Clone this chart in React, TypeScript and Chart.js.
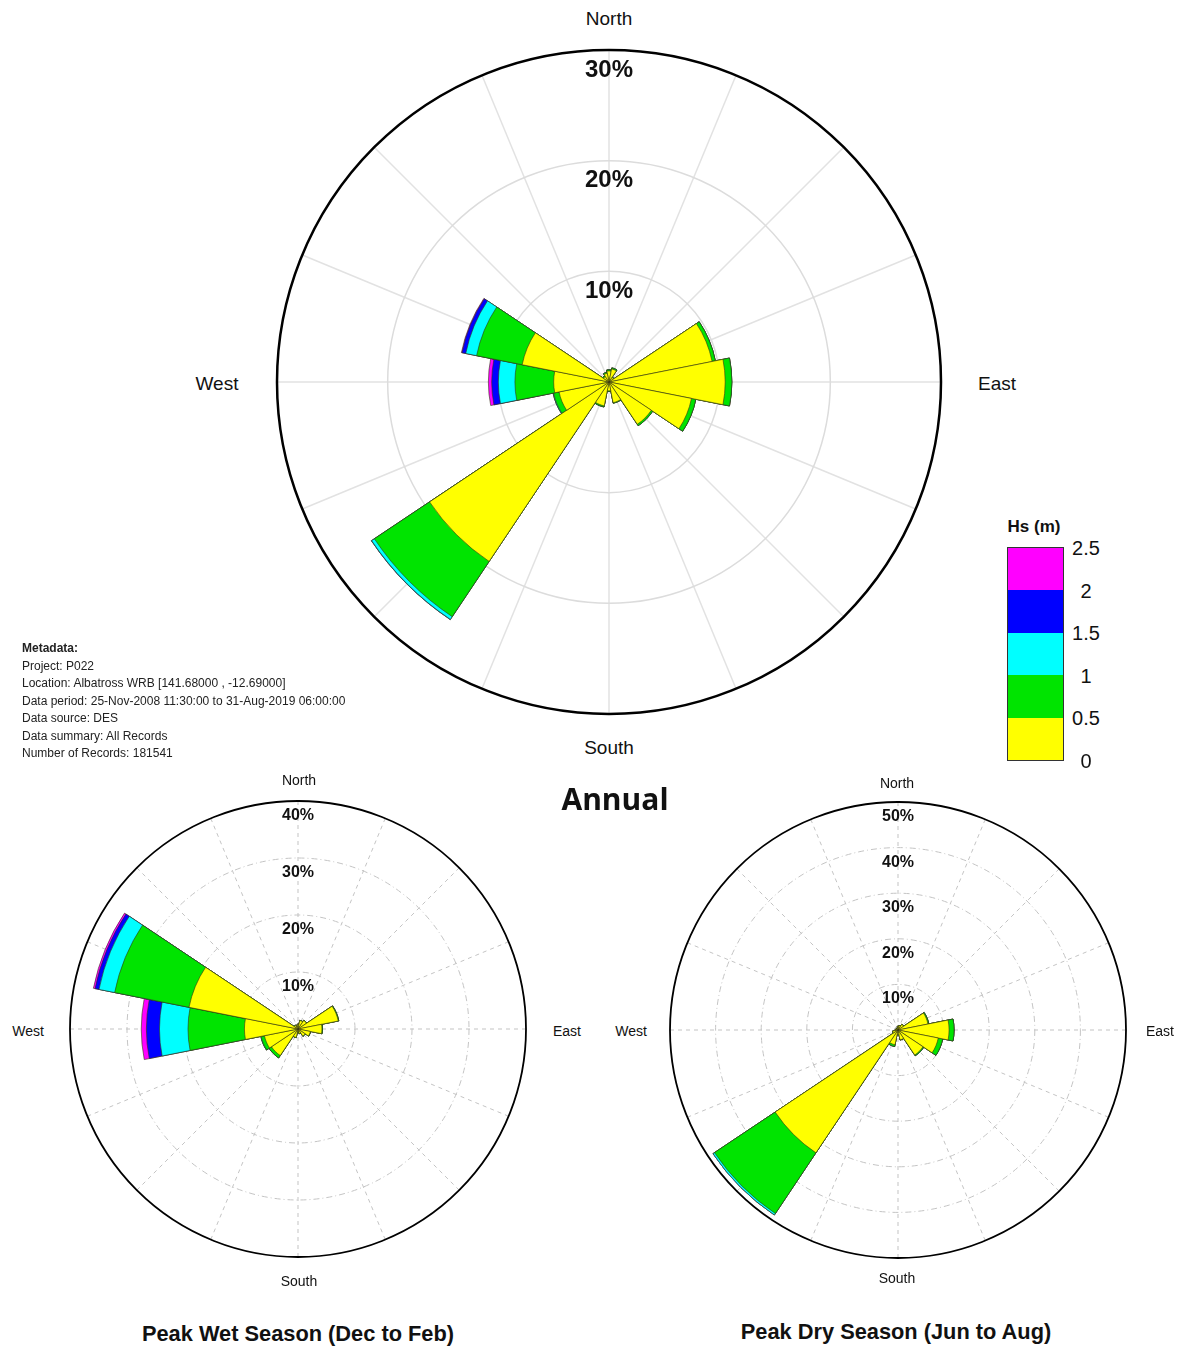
import React, { useEffect, useRef } from 'react';
import { Chart, registerables } from 'chart.js';

Chart.register(...registerables);

// ---------- data ----------
const directions = ['N', 'NNE', 'NE', 'ENE', 'E', 'ESE', 'SE', 'SSE', 'S', 'SSW', 'SW', 'WSW', 'W', 'WNW', 'NW', 'NNW'];
const hsBins = ['0-0.5', '0.5-1', '1-1.5', '1.5-2', '2-2.5'];
const hsColors = ['#ffff00', '#00e400', '#00ffff', '#0000ff', '#ff00ff'];
const colorbarTicks = ['2.5', '2', '1.5', '1', '0.5', '0'];

// Annual (% occurrence per Hs bin)
const annualHs0 = [1.0, 1.2, 0.5, 9.5, 10.5, 7.6, 4.6, 1.9, 0.8, 2.2, 19.5, 4.6, 5.0, 8.0, 0.6, 0.8];
const annualHs1 = [0.1, 0.1, 0.05, 0.3, 0.6, 0.4, 0.15, 0.05, 0.05, 0.1, 6.0, 0.5, 3.5, 4.2, 0.1, 0.1];
const annualHs2 = [0, 0, 0, 0, 0, 0, 0, 0, 0, 0, 0.3, 0.05, 1.5, 1.0, 0, 0];
const annualHs3 = [0, 0, 0, 0, 0, 0, 0, 0, 0, 0, 0.02, 0, 0.6, 0.35, 0, 0];
const annualHs4 = [0, 0, 0, 0, 0, 0, 0, 0, 0, 0, 0, 0, 0.3, 0.05, 0, 0];

// Peak wet season (Dec to Feb)
const wetHs0 = [0.8, 1.5, 1.8, 7.2, 4.2, 2.2, 1.5, 0.8, 0.5, 1.5, 5.6, 6.0, 9.4, 19.5, 0.8, 0.5];
const wetHs1 = [0.05, 0.05, 0.05, 0.1, 0.1, 0.05, 0.05, 0.05, 0.05, 0.05, 0.5, 0.6, 9.9, 13.3, 0.05, 0.05];
const wetHs2 = [0, 0, 0, 0, 0, 0, 0, 0, 0, 0, 0, 0.05, 5.0, 2.8, 0, 0];
const wetHs3 = [0, 0, 0, 0, 0, 0, 0, 0, 0, 0, 0, 0, 2.3, 0.7, 0, 0];
const wetHs4 = [0, 0, 0, 0, 0, 0, 0, 0, 0, 0, 0, 0, 0.9, 0.3, 0, 0];

// Peak dry season (Jun to Aug)
const dryHs0 = [0.8, 1.0, 1.5, 6.7, 11.2, 9.0, 6.6, 2.2, 1.0, 3.3, 32.4, 1.2, 0.6, 0.5, 0.4, 0.5];
const dryHs1 = [0.03, 0.03, 0.03, 0.2, 1.1, 1.0, 0.2, 0.05, 0.03, 0.4, 16.0, 0.05, 0.03, 0.03, 0.03, 0.03];
const dryHs2 = [0, 0, 0, 0, 0, 0, 0, 0, 0, 0, 0.4, 0, 0, 0, 0, 0];
const dryHs3 = [0, 0, 0, 0, 0, 0, 0, 0, 0, 0, 0, 0, 0, 0, 0, 0];
const dryHs4 = [0, 0, 0, 0, 0, 0, 0, 0, 0, 0, 0, 0, 0, 0, 0, 0];

const annualRings = [10, 20, 30];
const wetRings = [10, 20, 30, 40];
const dryRings = [10, 20, 30, 40, 50];

const metadataLines = [
  'Project: P022',
  'Location: Albatross WRB [141.68000 , -12.69000]',
  'Data period: 25-Nov-2008 11:30:00 to 31-Aug-2019 06:00:00',
  'Data source: DES',
  'Data summary: All Records',
  'Number of Records: 181541',
];

const FONT = '"Liberation Sans", Arial, Helvetica, sans-serif';

function buildDatasets(bins: number[][]) {
  return bins.map((_, b) => ({
    label: hsBins[b],
    data: directions.map((__, i) => {
      let s = 0;
      for (let k = 0; k <= b; k++) s += bins[k][i];
      return s;
    }),
    backgroundColor: hsColors[b],
    borderColor: 'rgba(50,50,20,0.85)',
    borderWidth: 0.7,
  }));
}

const roseGrid = {
  id: 'roseGrid',
  beforeDatasetsDraw(chart: any, _args: any, opts: any) {
    const s = chart.scales.r;
    const ctx = chart.ctx;
    const cx = s.xCenter;
    const cy = s.yCenter;
    const R = s.getDistanceFromCenterForValue(opts.max);
    ctx.save();
    ctx.strokeStyle = opts.spokeColor;
    ctx.lineWidth = opts.spokeWidth;
    ctx.setLineDash(opts.spokeDash);
    for (let i = 0; i < 16; i++) {
      const a = ((i * 22.5 - 90) * Math.PI) / 180;
      ctx.beginPath();
      ctx.moveTo(cx, cy);
      ctx.lineTo(cx + R * Math.cos(a), cy + R * Math.sin(a));
      ctx.stroke();
    }
    ctx.strokeStyle = opts.ringColor;
    ctx.lineWidth = opts.ringWidth;
    ctx.setLineDash(opts.ringDash);
    for (const v of opts.rings) {
      if (v >= opts.max) continue;
      const r = s.getDistanceFromCenterForValue(v);
      ctx.beginPath();
      ctx.arc(cx, cy, r, 0, Math.PI * 2);
      ctx.stroke();
    }
    ctx.restore();
  },
  afterDatasetsDraw(chart: any, _args: any, opts: any) {
    const s = chart.scales.r;
    const ctx = chart.ctx;
    const cx = s.xCenter;
    const cy = s.yCenter;
    const R = s.getDistanceFromCenterForValue(opts.max);
    ctx.save();
    ctx.setLineDash([]);
    ctx.strokeStyle = '#000';
    ctx.lineWidth = opts.outerWidth;
    ctx.beginPath();
    ctx.arc(cx, cy, R, 0, Math.PI * 2);
    ctx.stroke();
    ctx.fillStyle = '#111';
    ctx.font = `bold ${opts.labelSize}px ${FONT}`;
    ctx.textAlign = 'center';
    ctx.textBaseline = 'middle';
    for (const v of opts.rings) {
      const r = s.getDistanceFromCenterForValue(v);
      ctx.fillText(`${v}%`, cx, cy - r + opts.labelOffset);
    }
    ctx.restore();
  },
};

type RoseProps = {
  left: number;
  top: number;
  size: number;
  pad: number;
  rings: number[];
  bins: number[][];
  gridOpts: any;
};

function Rose({ left, top, size, pad, rings, bins, gridOpts }: RoseProps) {
  const ref = useRef<HTMLCanvasElement>(null);
  useEffect(() => {
    if (!ref.current) return;
    const max = rings[rings.length - 1];
    const chart = new Chart(ref.current, {
      type: 'polarArea',
      data: { labels: directions, datasets: buildDatasets(bins) as any },
      options: {
        responsive: false,
        animation: false,
        layout: { padding: pad },
        scales: {
          r: {
            min: 0,
            max,
            startAngle: -11.25,
            grid: { display: false },
            angleLines: { display: false },
            pointLabels: { display: false },
            ticks: { display: false },
          },
        },
        plugins: {
          legend: { display: false },
          tooltip: { enabled: false },
          roseGrid: { max, rings, ...gridOpts },
        } as any,
      },
      plugins: [roseGrid],
    });
    return () => chart.destroy();
  }, []);
  return (
    <canvas
      ref={ref}
      width={size}
      height={size}
      style={{ position: 'absolute', left, top, width: size, height: size }}
    />
  );
}

function Label({ x, y, text, size, bold, family }: { x: number; y: number; text: string; size: number; bold?: boolean; family?: string }) {
  return (
    <div
      style={{
        position: 'absolute',
        left: x,
        top: y,
        transform: 'translate(-50%, -50%)',
        whiteSpace: 'nowrap',
        fontFamily: family || FONT,
        fontSize: size,
        fontWeight: bold ? 'bold' : 'normal',
        color: '#111',
        lineHeight: 1,
      }}
    >
      {text}
    </div>
  );
}

export default function App() {
  useEffect(() => {
    document.body.style.margin = '0';
  }, []);

  const annualGrid = {
    spokeColor: '#e2e2e2',
    spokeWidth: 1.5,
    spokeDash: [],
    ringColor: '#dcdcdc',
    ringWidth: 1.5,
    ringDash: [],
    outerWidth: 2.5,
    labelSize: 24,
    labelOffset: 20,
  };
  const smallGrid = {
    spokeColor: '#c4c4c4',
    spokeWidth: 1,
    spokeDash: [4, 4],
    ringColor: '#c4c4c4',
    ringWidth: 1,
    ringDash: [6, 3, 1, 3],
    outerWidth: 1.8,
    labelSize: 16,
    labelOffset: 14.5,
  };

  return (
    <div style={{ position: 'absolute', left: 0, top: 0, width: 1184, height: 1347, background: '#fff', overflow: 'hidden' }}>
      {/* Annual */}
      <Rose
        left={259}
        top={32}
        size={700}
        pad={18}
        rings={annualRings}
        bins={[annualHs0, annualHs1, annualHs2, annualHs3, annualHs4]}
        gridOpts={annualGrid}
      />
      <Label x={609} y={18} text="North" size={19} />
      <Label x={609} y={747} text="South" size={19} />
      <Label x={217} y={383} text="West" size={19} />
      <Label x={997} y={383} text="East" size={19} />

      {/* Wet */}
      <Rose
        left={48}
        top={779}
        size={500}
        pad={22}
        rings={wetRings}
        bins={[wetHs0, wetHs1, wetHs2, wetHs3, wetHs4]}
        gridOpts={smallGrid}
      />
      <Label x={299} y={780} text="North" size={14} />
      <Label x={299} y={1281} text="South" size={14} />
      <Label x={28} y={1031} text="West" size={14} />
      <Label x={567} y={1031} text="East" size={14} />

      {/* Dry */}
      <Rose
        left={648}
        top={780}
        size={500}
        pad={22}
        rings={dryRings}
        bins={[dryHs0, dryHs1, dryHs2, dryHs3, dryHs4]}
        gridOpts={smallGrid}
      />
      <Label x={897} y={783} text="North" size={14} />
      <Label x={897} y={1278} text="South" size={14} />
      <Label x={631} y={1031} text="West" size={14} />
      <Label x={1160} y={1031} text="East" size={14} />

      {/* Titles */}
      <Label x={615} y={799} text="Annual" size={30} bold family={'"Open Sans", "Liberation Sans", Arial, sans-serif'} />
      <Label x={298} y={1334} text="Peak Wet Season (Dec to Feb)" size={21.8} bold />
      <Label x={896} y={1332} text="Peak Dry Season (Jun to Aug)" size={21.8} bold />

      {/* Metadata */}
      <div style={{ position: 'absolute', left: 22, top: 640, fontFamily: FONT, fontSize: 12, lineHeight: '17.5px', color: '#222', whiteSpace: 'nowrap' }}>
        <div style={{ fontWeight: 'bold' }}>Metadata:</div>
        {metadataLines.map((l) => (
          <div key={l}>{l}</div>
        ))}
      </div>

      {/* Colour bar legend */}
      <Label x={1034} y={526} text="Hs (m)" size={17} bold />
      <div style={{ position: 'absolute', left: 1007, top: 547, width: 57, height: 214, border: '1px solid #333', boxSizing: 'border-box', display: 'flex', flexDirection: 'column' }}>
        {hsColors
          .slice()
          .reverse()
          .map((c) => (
            <div key={c} style={{ flex: 1, background: c }} />
          ))}
      </div>
      {colorbarTicks.map((t, i) => (
        <Label key={t} x={1086} y={548 + i * 42.6} text={t} size={20} />
      ))}
    </div>
  );
}
